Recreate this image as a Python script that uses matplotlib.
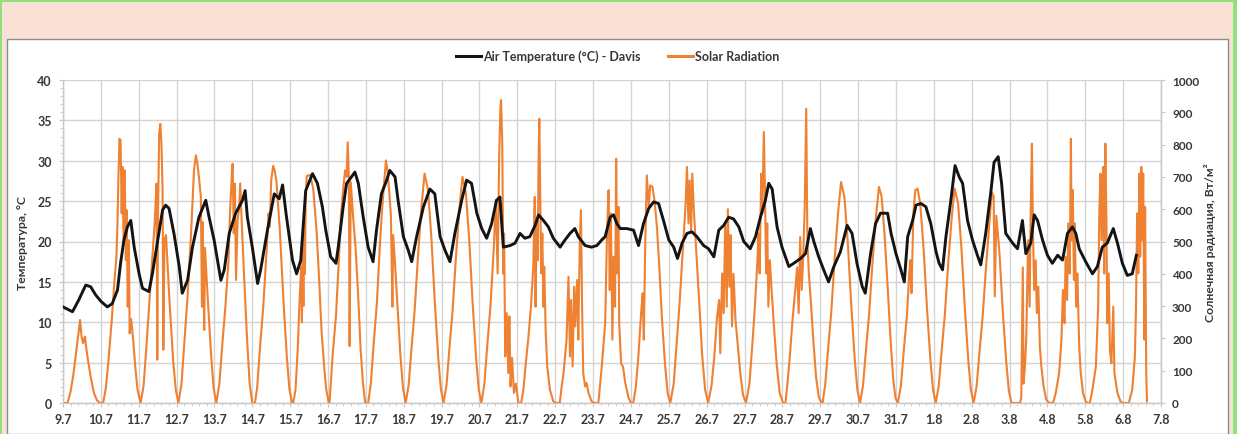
import matplotlib
matplotlib.use("Agg")
import matplotlib.pyplot as plt
from matplotlib.patches import Rectangle
from matplotlib.lines import Line2D
from matplotlib.ticker import MultipleLocator

# ---------------- data ----------------
date_labels = ['9.7', '10.7', '11.7', '12.7', '13.7', '14.7', '15.7', '16.7', '17.7', '18.7',
               '19.7', '20.7', '21.7', '22.7', '23.7', '24.7', '25.7', '26.7', '27.7', '28.7',
               '29.7', '30.7', '31.7', '1.8', '2.8', '3.8', '4.8', '5.8', '6.8', '7.8']

# time in days since 9.7 00:00
temp_t = [0.0, 0.25, 0.42, 0.60, 0.73, 0.86, 1.00, 1.17, 1.30, 1.44, 1.52, 1.61, 1.70, 1.79, 1.88, 2.01,
          2.10, 2.27, 2.36, 2.49, 2.63, 2.71, 2.80, 2.93, 3.07, 3.15, 3.29, 3.42, 3.59, 3.77, 3.86, 3.99,
          4.17, 4.26, 4.39, 4.56, 4.74, 4.81, 4.87, 5.00, 5.14, 5.22, 5.40, 5.58, 5.71, 5.80, 5.89, 6.06,
          6.17, 6.28, 6.41, 6.59, 6.72, 6.85, 6.94, 7.07, 7.21,
          7.27, 7.40, 7.49, 7.62, 7.71, 7.80, 7.93, 8.06, 8.19, 8.28, 8.41, 8.55, 8.63, 8.77, 8.85, 8.99,
          9.12, 9.21, 9.34, 9.52, 9.69, 9.82, 9.96, 10.09, 10.22, 10.35, 10.53, 10.66, 10.79, 10.93, 11.06,
          11.19, 11.32, 11.45, 11.54, 11.63, 11.81, 11.94, 12.07, 12.20, 12.33, 12.47, 12.56, 12.69, 12.82,
          12.95, 13.13, 13.26, 13.39, 13.52, 13.61, 13.79, 13.96, 14.10, 14.23,
          14.32, 14.45, 14.54, 14.63, 14.72, 14.89, 15.07, 15.20, 15.33, 15.47, 15.60, 15.73, 15.86, 16.00,
          16.13, 16.23, 16.35, 16.48, 16.61, 16.74, 16.92, 17.05, 17.19, 17.32, 17.45, 17.58, 17.71, 17.85,
          17.98, 18.15, 18.29, 18.42, 18.55, 18.64, 18.73, 18.86, 18.99, 19.17, 19.30, 19.48, 19.61, 19.74,
          19.83, 19.96, 20.09, 20.22, 20.36, 20.53, 20.71, 20.84, 20.97, 21.11, 21.19, 21.33, 21.46, 21.59,
          21.78, 21.87, 22.00, 22.13, 22.22, 22.31, 22.44, 22.53, 22.66, 22.79, 22.92, 23.06, 23.14, 23.23,
          23.32, 23.45, 23.56, 23.67, 23.76, 23.89, 24.02, 24.15, 24.24, 24.37, 24.51, 24.59, 24.70, 24.79,
          24.90, 25.08, 25.21, 25.34, 25.43, 25.56, 25.65, 25.74, 25.87, 26.00, 26.13, 26.27, 26.40, 26.53,
          26.66, 26.75, 26.84, 27.01, 27.19, 27.32, 27.45, 27.58, 27.74, 27.85, 27.98, 28.11, 28.24, 28.35]

temp_c = [11.9, 11.3, 12.8, 14.6, 14.4, 13.4, 12.6, 11.9, 12.3, 14.0, 17.3, 20.2, 21.8, 22.6, 19.3, 16.0,
          14.2, 13.8, 16.0, 19.8, 23.9, 24.5, 24.1, 21.0, 16.9, 13.6, 15.2, 19.3, 23.0, 25.1, 23.0, 20.2,
          15.2, 16.5, 21.0, 23.5, 25.1, 26.3, 23.0, 19.3, 14.8, 16.5, 21.4, 25.9, 25.3, 27.0, 23.5, 17.7,
          16.0, 17.7, 26.3, 28.4, 27.2, 24.3, 21.4, 18.1, 17.3,
          19.3, 24.3, 27.2, 28.0, 28.6, 27.2, 23.0, 19.3, 17.5, 21.4, 25.9, 27.6, 28.8, 28.0, 25.1, 20.6,
          18.9, 17.5, 20.6, 24.3, 26.5, 25.9, 20.6, 18.9, 17.5, 21.0, 25.1, 27.6, 27.2, 23.5, 21.6,
          20.4, 22.2, 25.1, 25.5, 19.3, 19.5, 19.8, 21.0, 20.4, 20.6, 22.0, 23.3, 22.6, 21.8,
          20.4, 19.3, 20.2, 21.0, 21.6, 20.6, 19.5, 19.3, 19.5, 20.2,
          20.6, 23.0, 23.3, 22.2, 21.6, 21.6, 21.4, 19.5, 22.2, 24.1, 24.9, 24.7, 22.6, 20.2,
          19.3, 17.9, 19.8, 21.0, 21.2, 20.6, 19.5, 19.1, 18.1, 21.4, 22.0, 23.0, 22.8, 21.8,
          20.0, 19.1, 20.6, 23.0, 25.1, 27.2, 26.5, 21.8, 19.3, 16.9, 17.3, 17.9, 18.5, 21.6,
          20.0, 18.1, 16.5, 15.0, 16.9, 18.7, 22.0, 21.0, 17.3, 14.4, 13.6, 18.5, 22.2, 23.5,
          23.5, 21.0, 18.5, 16.5, 15.0, 20.6, 22.6, 24.5, 24.7, 24.3, 22.2, 18.7, 17.3, 16.5,
          20.6, 25.1, 29.4, 28.0, 27.2, 22.6, 20.2, 18.3, 17.1, 21.0, 26.3, 29.8, 30.5, 27.2,
          21.0, 19.8, 19.1, 22.6, 18.5, 19.8, 23.3, 22.6, 20.2, 18.3, 17.3, 18.3, 17.7, 21.0,
          21.8, 21.0, 19.1, 17.5, 16.0, 16.9, 19.3, 19.8, 21.6, 19.8, 17.3, 15.8, 16.0, 18.3]

# solar radiation readings: (days since 9.7 00:00, W/m2)
solar_points = [
    (0.00, 0), (0.12, 0), (0.20, 35), (0.27, 85), (0.33, 140), (0.38, 190), (0.41, 216), (0.45, 257), (0.49, 206),
    (0.53, 185), (0.58, 206), (0.62, 165), (0.67, 125), (0.74, 75), (0.82, 30), (0.90, 8), (0.98, 0),
    (1.06, 0), (1.13, 45), (1.20, 130), (1.29, 260), (1.36, 380), (1.41, 450), (1.44, 560), (1.46, 679), (1.49, 818),
    (1.52, 813), (1.55, 587), (1.57, 731), (1.60, 504), (1.63, 720), (1.66, 442), (1.68, 597), (1.71, 298),
    (1.74, 504), (1.76, 216), (1.80, 260), (1.85, 200), (1.91, 110), (1.97, 40), (2.05, 0),
    (2.13, 55), (2.20, 170), (2.29, 330), (2.36, 450), (2.42, 556), (2.47, 679), (2.49, 134), (2.51, 587),
    (2.54, 834), (2.57, 864), (2.60, 803), (2.63, 659), (2.65, 165), (2.68, 504), (2.72, 520), (2.76, 430),
    (2.82, 300), (2.91, 130), (2.98, 40), (3.05, 0),
    (3.13, 60), (3.20, 176), (3.29, 330), (3.38, 520), (3.46, 720), (3.51, 767), (3.55, 741), (3.59, 700),
    (3.64, 640), (3.67, 298), (3.69, 560), (3.73, 226), (3.75, 480), (3.82, 330), (3.91, 150), (3.98, 45), (4.05, 0),
    (4.13, 60), (4.20, 170), (4.29, 300), (4.37, 440), (4.41, 587), (4.46, 710), (4.48, 741), (4.51, 525),
    (4.54, 679), (4.57, 381), (4.61, 566), (4.65, 600), (4.68, 680), (4.72, 560), (4.78, 400), (4.86, 200),
    (4.93, 60), (5.00, 0),
    (5.07, 0), (5.13, 50), (5.20, 167), (5.29, 300), (5.38, 477), (5.43, 587), (5.46, 545), (5.50, 690),
    (5.55, 734), (5.59, 720), (5.64, 684), (5.73, 529), (5.82, 322), (5.91, 146), (5.98, 43), (6.05, 0),
    (6.08, 0), (6.14, 40), (6.20, 167), (6.25, 322), (6.29, 420), (6.31, 250), (6.33, 480), (6.35, 300),
    (6.37, 560), (6.39, 400), (6.41, 640), (6.44, 703), (6.53, 706), (6.61, 662), (6.70, 529), (6.77, 370),
    (6.83, 220), (6.90, 110), (6.95, 43), (7.02, 0),
    (7.04, 0), (7.12, 146), (7.21, 270), (7.30, 477), (7.34, 580), (7.40, 662), (7.45, 720), (7.49, 700),
    (7.52, 807), (7.55, 700), (7.57, 176), (7.60, 684), (7.66, 580), (7.73, 477), (7.80, 322), (7.86, 167),
    (7.92, 65), (7.98, 0),
    (8.06, 0), (8.13, 60), (8.20, 175), (8.29, 310), (8.37, 490), (8.42, 587), (8.48, 679), (8.53, 751),
    (8.57, 720), (8.62, 650), (8.66, 580), (8.70, 298), (8.72, 520), (8.77, 430), (8.82, 330), (8.91, 150),
    (8.98, 45), (9.05, 0),
    (9.13, 57), (9.20, 163), (9.29, 291), (9.38, 462), (9.47, 611), (9.55, 710), (9.64, 660), (9.73, 511),
    (9.82, 312), (9.91, 142), (9.98, 43), (10.05, 0),
    (10.13, 56), (10.20, 161), (10.29, 287), (10.38, 455), (10.47, 602), (10.55, 700), (10.64, 651),
    (10.73, 504), (10.82, 308), (10.91, 140), (10.98, 42), (11.05, 0),
    (11.13, 60), (11.20, 170), (11.29, 300), (11.38, 484), (11.43, 628), (11.48, 401), (11.52, 761),
    (11.55, 906), (11.57, 938), (11.60, 813), (11.63, 401), (11.65, 525), (11.68, 144), (11.72, 278),
    (11.76, 93), (11.79, 268), (11.82, 51), (11.86, 140), (11.91, 31), (11.96, 60), (12.03, 0),
    (12.10, 0), (12.16, 40), (12.22, 120), (12.29, 200), (12.36, 300), (12.42, 420), (12.46, 638),
    (12.48, 298), (12.51, 556), (12.54, 442), (12.56, 751), (12.58, 880), (12.61, 587), (12.63, 401),
    (12.66, 525), (12.69, 298), (12.71, 422), (12.75, 216), (12.79, 113), (12.86, 41), (12.95, 5), (13.03, 0),
    (13.12, 0), (13.18, 60), (13.22, 93), (13.30, 196), (13.35, 391), (13.39, 144), (13.42, 319), (13.46, 113),
    (13.50, 360), (13.53, 237), (13.58, 381), (13.61, 196), (13.65, 504), (13.68, 597), (13.71, 298),
    (13.74, 93), (13.79, 51), (13.83, 62), (13.88, 31), (13.96, 5), (14.04, 0),
    (14.14, 0), (14.23, 113), (14.32, 247), (14.37, 535), (14.41, 659), (14.44, 350), (14.47, 587),
    (14.51, 196), (14.54, 453), (14.58, 298), (14.61, 756), (14.64, 401), (14.67, 607), (14.69, 247),
    (14.74, 123), (14.79, 113), (14.85, 62), (14.94, 15), (15.00, 0),
    (15.06, 0), (15.13, 50), (15.20, 150), (15.27, 280), (15.31, 340), (15.34, 196), (15.38, 504),
    (15.42, 705), (15.47, 607), (15.51, 674), (15.57, 669), (15.63, 620), (15.69, 540), (15.75, 420),
    (15.82, 260), (15.90, 120), (15.97, 30), (16.04, 0),
    (16.13, 60), (16.20, 170), (16.28, 300), (16.36, 453), (16.44, 607), (16.48, 731), (16.52, 556),
    (16.55, 689), (16.59, 535), (16.62, 710), (16.66, 600), (16.72, 480), (16.80, 320), (16.88, 150),
    (16.96, 40), (17.04, 0),
    (17.13, 55), (17.20, 140), (17.27, 260), (17.33, 319), (17.36, 154), (17.41, 401), (17.45, 278),
    (17.49, 560), (17.53, 298), (17.56, 600), (17.60, 360), (17.63, 520), (17.67, 237), (17.71, 400),
    (17.76, 260), (17.82, 180), (17.89, 90), (17.96, 25), (18.04, 0),
    (18.13, 60), (18.20, 170), (18.28, 310), (18.34, 440), (18.37, 525), (18.40, 401), (18.44, 710),
    (18.47, 587), (18.51, 839), (18.54, 659), (18.57, 401), (18.60, 556), (18.63, 298), (18.67, 442),
    (18.71, 360), (18.77, 250), (18.85, 120), (18.93, 30), (19.02, 0),
    (19.08, 0), (19.13, 55), (19.20, 150), (19.27, 260), (19.34, 350), (19.39, 420), (19.43, 278),
    (19.47, 514), (19.51, 350), (19.55, 453), (19.59, 607), (19.63, 911), (19.66, 504), (19.70, 400),
    (19.76, 300), (19.82, 190), (19.89, 80), (19.96, 20), (20.03, 0),
    (20.06, 0), (20.13, 55), (20.20, 157), (20.29, 280), (20.38, 445), (20.47, 588), (20.55, 684),
    (20.64, 636), (20.73, 492), (20.82, 301), (20.91, 137), (20.98, 41), (21.05, 0),
    (21.13, 54), (21.20, 154), (21.29, 274), (21.38, 435), (21.47, 575), (21.55, 669), (21.62, 640),
    (21.70, 520), (21.78, 360), (21.86, 190), (21.93, 70), (21.99, 15), (22.05, 0),
    (22.13, 53), (22.20, 153), (22.29, 272), (22.35, 400), (22.38, 442), (22.41, 340), (22.46, 587),
    (22.51, 659), (22.57, 664), (22.64, 618), (22.73, 478), (22.82, 292), (22.91, 133), (22.98, 40), (23.05, 0),
    (23.13, 53), (23.20, 153), (23.29, 272), (23.38, 432), (23.47, 571), (23.55, 664), (23.64, 618),
    (23.73, 478), (23.82, 292), (23.91, 133), (23.98, 40), (24.05, 0),
    (24.13, 52), (24.20, 150), (24.29, 268), (24.38, 424), (24.47, 562), (24.53, 653), (24.58, 640),
    (24.61, 330), (24.65, 580), (24.73, 470), (24.82, 287), (24.91, 131), (24.98, 39), (25.05, 0),
    (25.28, 0), (25.31, 20), (25.35, 420), (25.37, 60), (25.41, 120), (25.44, 196), (25.49, 504),
    (25.53, 298), (25.56, 607), (25.59, 803), (25.62, 525), (25.65, 350), (25.69, 442), (25.72, 278),
    (25.76, 360), (25.80, 175), (25.84, 113), (25.90, 51), (25.97, 10), (26.05, 0),
    (26.15, 0), (26.22, 31), (26.31, 93), (26.37, 196), (26.41, 350), (26.45, 247), (26.48, 453),
    (26.52, 319), (26.55, 556), (26.59, 401), (26.62, 818), (26.64, 504), (26.67, 659), (26.70, 381),
    (26.72, 556), (26.76, 298), (26.79, 401), (26.84, 175), (26.88, 93), (26.94, 31), (27.01, 5), (27.06, 0),
    (27.12, 0), (27.19, 41), (27.28, 113), (27.34, 298), (27.37, 587), (27.40, 710), (27.43, 504),
    (27.47, 731), (27.50, 401), (27.53, 803), (27.56, 556), (27.58, 247), (27.62, 401), (27.65, 165),
    (27.69, 123), (27.74, 298), (27.77, 93), (27.85, 31), (27.93, 5), (27.99, 0),
    (28.15, 0), (28.24, 41), (28.31, 144), (28.34, 298), (28.37, 587), (28.40, 401), (28.43, 710),
    (28.45, 453), (28.48, 731), (28.51, 504), (28.53, 710), (28.56, 196), (28.58, 607), (28.61, 93), (28.63, 5),
]
rad_t = [p[0] for p in solar_points]
rad_wm2 = [p[1] for p in solar_points]

temp_label = 'Air Temperature (°C) - Davis'
rad_label = 'Solar Radiation'
ylabel_left = 'Температура, °С'
ylabel_right = 'Солнечная радиация, Вт/м²'

# ---------------- style ----------------
W, H = 1237, 435
FONT = ['Lato', 'DejaVu Sans']
TXT = '#383838'
GRID = '#d4d4d4'
ORANGE = '#EF8133'

plt.rcParams['font.family'] = FONT
plt.rcParams['font.weight'] = 'bold'

fig = plt.figure(figsize=(W / 100, H / 100), dpi=100)
fig.patch.set_facecolor('#f9e1d6')


def fx(px):
    return px / W


def fy(py):
    return 1 - py / H


# white chart panel
fig.add_artist(Rectangle((fx(7), 0), fx(1228) - fx(7), fy(40), transform=fig.transFigure,
                         facecolor='white', edgecolor='#8c8c8c', lw=1.0, zorder=0))
# green frame
for (x0, y0, w, h) in [(0, 0, 2, H), (1233, 0, 4, H), (0, 0, W, 3)]:
    fig.add_artist(Rectangle((fx(x0), fy(y0 + h)), w / W, h / H, transform=fig.transFigure,
                             facecolor='#8de27c', edgecolor='none', zorder=5))

ax = fig.add_axes([fx(63), fy(404), fx(1161) - fx(63), fy(81) - fy(404)])
ax2 = ax.twinx()

ax.set_xlim(0, len(date_labels) - 1)
ax.set_ylim(0, 40)
ax2.set_ylim(0, 1000)

ax.set_xticks(range(len(date_labels)))
ax.set_xticklabels(date_labels)
ax.set_yticks(range(0, 41, 5))
ax.yaxis.set_minor_locator(MultipleLocator(1))
ax.xaxis.set_minor_locator(MultipleLocator(0.2))
ax.grid(True, which='major', color=GRID, lw=1.0)
ax.set_axisbelow(True)

ax2.set_yticks(range(0, 1001, 100))

for a in (ax, ax2):
    for s in a.spines.values():
        s.set_color('#c8c8c8')
        s.set_linewidth(0.9)
ax.spines['top'].set_visible(False)
ax2.spines['top'].set_visible(False)

ax.tick_params(axis='x', which='major', length=3, color='#c8c8c8', pad=4,
               labelsize=9, labelcolor=TXT)
ax.tick_params(axis='x', which='minor', length=2, color='#c8c8c8')
ax.tick_params(axis='y', which='major', length=3, color='#c8c8c8', pad=5,
               labelsize=9, labelcolor=TXT)
ax.tick_params(axis='y', which='minor', length=2, color='#c8c8c8')
ax2.tick_params(axis='y', which='major', length=3, color='#c8c8c8', pad=5,
                labelsize=8.5, labelcolor=TXT)
for lab in ax.get_xticklabels() + ax.get_yticklabels() + ax2.get_yticklabels():
    lab.set_fontweight('bold')

# radiation first, temperature drawn above it
ax2.plot(rad_t, rad_wm2, color=ORANGE, lw=1.5, zorder=2, solid_joinstyle='round')
ax2.plot(temp_t, temp_c, color='#141414', lw=2.1, zorder=3, transform=ax.transData,
         solid_joinstyle='round')

ax.set_ylabel(ylabel_left, fontsize=8.8, fontweight='bold', color=TXT)
ax2.set_ylabel(ylabel_right, fontsize=8.8, fontweight='bold', color=TXT)
ax.yaxis.set_label_coords((28 - 63) / (1161 - 63), 0.5)
ax2.yaxis.set_label_coords((1204 - 63) / (1161 - 63), 0.5)

handles = [Line2D([], [], color='#141414', lw=2.2), Line2D([], [], color=ORANGE, lw=2.2)]
leg = fig.legend(handles, [temp_label, rad_label], loc='center', bbox_to_anchor=(fx(618), fy(57)),
                 ncol=2, frameon=False, handlelength=2.0, handletextpad=0.15, columnspacing=2.2,
                 prop={'family': FONT, 'weight': 'bold', 'size': 9})
for t in leg.get_texts():
    t.set_color(TXT)

fig.savefig('out.png', dpi=100, facecolor=fig.get_facecolor())
